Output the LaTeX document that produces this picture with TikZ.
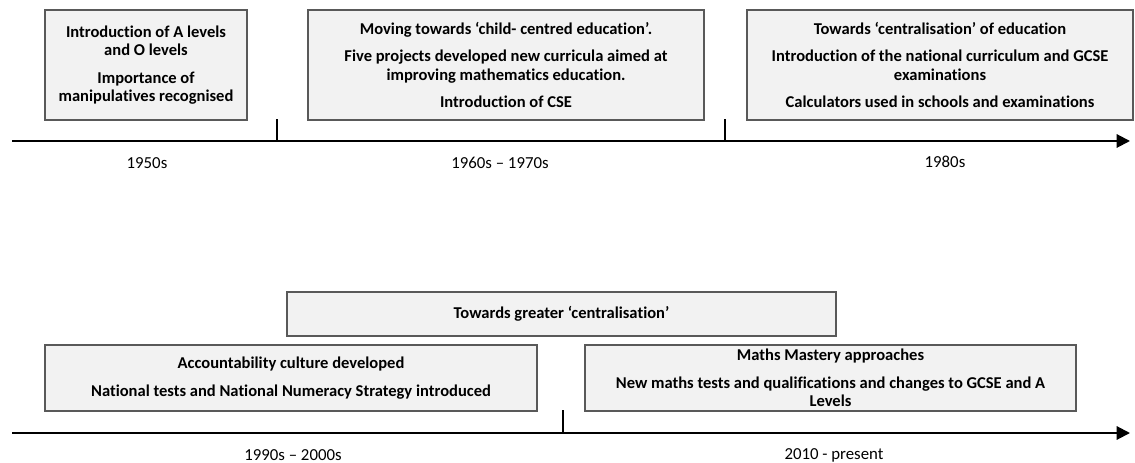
\documentclass[tikz,border=0pt]{standalone}
\usepackage{fontspec}
\setmainfont{Carlito}[Ligatures=NoCommon]
\usetikzlibrary{arrows.meta}
\definecolor{boxfill}{HTML}{F2F2F2}
\definecolor{boxline}{HTML}{595959}

\begin{document}
\begin{tikzpicture}[
x=0.75pt,
y=-0.75pt,
eventbox/.style={rectangle, draw=boxline, fill=boxfill, line width=0.9pt, align=center, inner sep=0pt, font=\bfseries\fontsize{12.4}{13.6}\selectfont},
period/.style={font=\fontsize{12.6}{13.6}\selectfont},
axis/.style={line width=1.5pt, -{Triangle[length=10pt,width=10pt]}},
tickline/.style={line width=1.2pt},
]
\useasboundingbox (0,0) rectangle (1135,463);
% upper timeline
\coordinate (a1) at (12,141);
\coordinate (a2) at (1130,141);
\draw[axis] (a1) -- (a2);
\node[eventbox, minimum width=151.5pt, minimum height=82.5pt] (e50) at (146,65)
 {Introduction of A levels\\ and O levels\\[7pt] Importance of\\ manipulatives recognised};
\node[eventbox, minimum width=297pt, minimum height=82.5pt] (e60) at (506,65)
 {Moving towards ‘child- centred education’.\\[7pt] Five projects developed new curricula aimed at\\ improving mathematics education.\\[7pt] Introduction of CSE};
\node[eventbox, minimum width=289.5pt, minimum height=82.5pt] (e80) at (940,65)
 {Towards ‘centralisation’ of education\\[7pt] Introduction of the national curriculum and GCSE\\ examinations\\[7pt] Calculators used in schools and examinations};
\foreach \x/\n in {277/t1,725/t2}
{
 \coordinate (\n a) at (\x,141);
 \coordinate (\n b) at (\x,119);
 \draw[tickline] (\n a) -- (\n b);
}
\node[period] (p50) at (147,163) {1950s};
\node[period] (p60) at (500,163) {1960s – 1970s};
\node[period] (p80) at (945,162) {1980s};
% lower timeline
\coordinate (b1) at (12,433);
\coordinate (b2) at (1130,433);
\draw[axis] (b1) -- (b2);
\node[eventbox, minimum width=411.75pt, minimum height=33pt] (cent) at (561.5,314)
 {Towards greater ‘centralisation’};
\node[eventbox, minimum width=369pt, minimum height=49.5pt] (e90) at (291,378)
 {Accountability culture developed\\[7pt] National tests and National Numeracy Strategy introduced};
\node[eventbox, minimum width=368.25pt, minimum height=49.5pt] (e10) at (830.5,378)
 {Maths Mastery approaches\\[7pt] New maths tests and qualifications and changes to GCSE and A\\ Levels};
\coordinate (t3a) at (563,433);
\coordinate (t3b) at (563,410);
\draw[tickline] (t3a) -- (t3b);
\node[period] (p90) at (293,455) {1990s – 2000s};
\node[period] (p10) at (834,455) {2010 - present};
\end{tikzpicture}
\end{document}
